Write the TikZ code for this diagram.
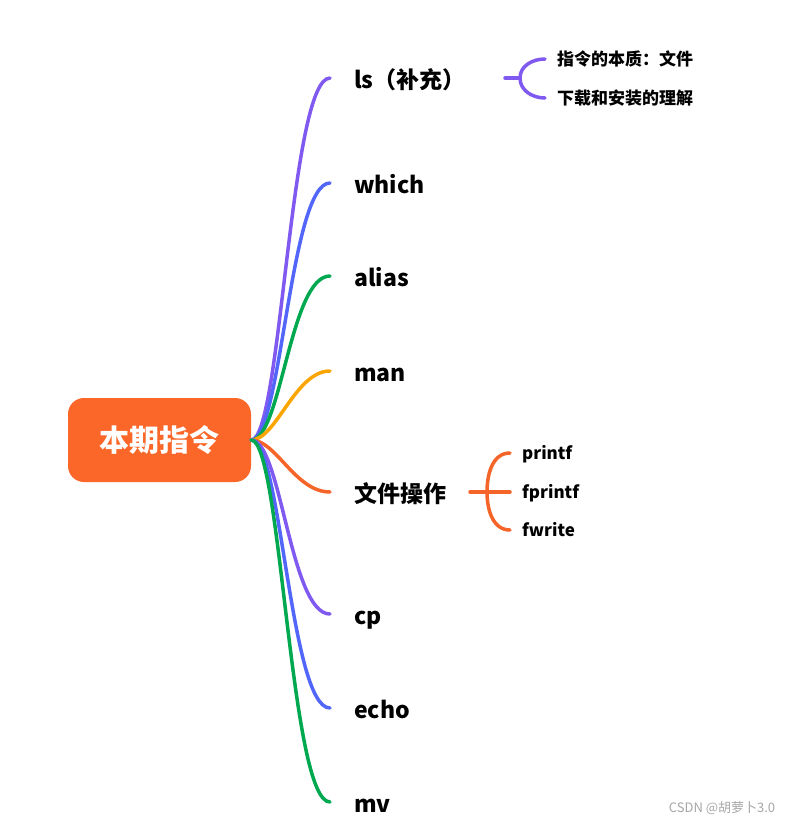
\documentclass[tikz,border=0pt]{standalone}
\usepackage{fontspec}
\setmainfont{Noto Sans CJK SC}
\usetikzlibrary{positioning}

\definecolor{rootc}{RGB}{250,103,40}
\definecolor{lila}{RGB}{128,90,240}
\definecolor{bleu}{RGB}{82,102,250}
\definecolor{vert}{RGB}{0,168,80}
\definecolor{jaune}{RGB}{250,165,0}
\definecolor{orange}{RGB}{245,100,40}

\begin{document}
\begin{tikzpicture}[x=1pt, y=-1pt,
  root/.style={fill=rootc, text=white, rounded corners=16pt, minimum width=183pt, minimum height=84pt, font=\fontsize{30}{30}\selectfont\bfseries},
  topic/.style={anchor=west, inner xsep=24pt, inner ysep=0pt, text height=22pt, text depth=2pt, font=\fontsize{23}{23}\selectfont\bfseries},
  item/.style={anchor=west, inner xsep=12pt, inner ysep=0pt, text height=14pt, text depth=2pt, font=\fontsize{17}{17}\selectfont\bfseries},
  branch/.style={line width=3.5pt, line cap=round, draw=#1}]
\useasboundingbox (0,0) rectangle (788,823);

% Central topic
\node[root] (root) at (159.5,440) {本期指令};

% Main topics
\node[topic] (ls) at (330,78) {ls（补充）};
\node[topic] (which) at (330,183) {which};
\node[topic] (alias) at (330,276) {alias};
\node[topic] (man) at (330,371) {man};
\node[topic] (file) at (330,492) {文件操作};
\node[topic] (cp) at (330,614) {cp};
\node[topic] (echo) at (330,708) {echo};
\node[topic] (mv) at (330,802) {mv};

% Branches from the centre
\draw[branch=lila] (root.east) .. controls +(30,0) and +(-40,0) .. (ls.west);
\draw[branch=bleu] (root.east) .. controls +(30,0) and +(-40,0) .. (which.west);
\draw[branch=vert] (root.east) .. controls +(30,0) and +(-40,0) .. (alias.west);
\draw[branch=jaune] (root.east) .. controls +(25,0) and +(-35,0) .. (man.west);
\draw[branch=orange] (root.east) .. controls +(25,0) and +(-35,0) .. (file.west);
\draw[branch=lila] (root.east) .. controls +(30,0) and +(-40,0) .. (cp.west);
\draw[branch=bleu] (root.east) .. controls +(30,0) and +(-40,0) .. (echo.west);
\draw[branch=vert] (root.east) .. controls +(30,0) and +(-40,0) .. (mv.west);

% Sub topics of ls
\node[item] (essence) at (545,59) {指令的本质：文件};
\node[item] (install) at (545,98) {下载和安装的理解};
\coordinate (lsj) at (505,78);
\coordinate (lsm) at (520,78);
\draw[branch=lila] (lsj) -- (lsm);
\draw[branch=lila] (essence.west) to[out=180,in=90] (lsm) to[out=-90,in=180] (install.west);

% Sub topics of file operations
\node[item] (printf) at (510,453) {printf};
\node[item] (fprintf) at (510,492) {fprintf};
\node[item] (fwrite) at (510,530) {fwrite};
\coordinate (filej) at (470,492);
\coordinate (filem) at (487,492);
\draw[branch=orange] (filej) -- (fprintf.west);
\draw[branch=orange] (printf.west) to[out=180,in=90] (filem) to[out=-90,in=180] (fwrite.west);

% Watermark
\node[text=black!35, font=\fontsize{13}{13}\selectfont] (mark) at (722,808) {CSDN @胡萝卜3.0};
\end{tikzpicture}
\end{document}
